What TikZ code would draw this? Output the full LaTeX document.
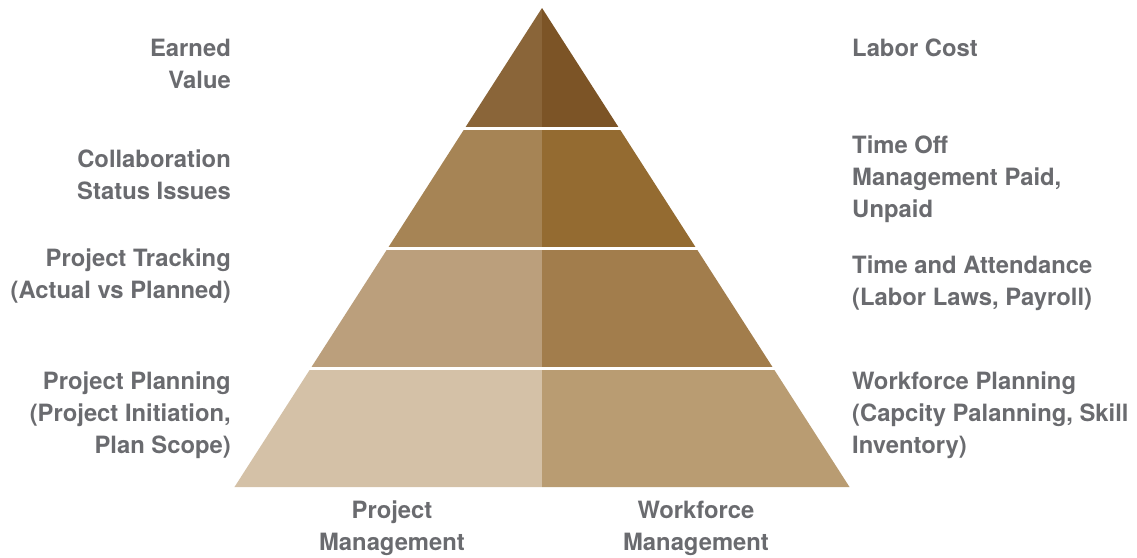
\documentclass[tikz,border=0pt]{standalone}
\usepackage{fontspec}
\setmainfont{TeX Gyre Heros}
\definecolor{pmA}{HTML}{8A6539}
\definecolor{wmA}{HTML}{7C5426}
\definecolor{pmB}{HTML}{A68455}
\definecolor{wmB}{HTML}{946B31}
\definecolor{pmC}{HTML}{BB9F7C}
\definecolor{wmC}{HTML}{A27D4C}
\definecolor{pmD}{HTML}{D4C1A7}
\definecolor{wmD}{HTML}{B99C72}
\definecolor{labelgrey}{HTML}{6A6B6F}
\tikzset{
  lbl/.style={inner sep=0pt, text=labelgrey, font=\fontsize{23.8}{32}\selectfont\bfseries},
  leftlbl/.style={lbl, anchor=east, align=right},
  rightlbl/.style={lbl, anchor=west, align=left},
  footlbl/.style={lbl, align=center}
}
\begin{document}
\begin{tikzpicture}[x=1pt,y=-1pt]
  \useasboundingbox (0,0) rectangle (1137,557);
  % pyramid layers
  \foreach \yt/\yb/\lc/\rc in {8/128/pmA/wmA, 128/248/pmB/wmB, 248/368/pmC/wmC, 368/487/pmD/wmD} {
    \fill[\lc] (542,\yt) -- ({542-0.642*(\yt-8)},\yt) -- ({542-0.642*(\yb-8)},\yb) -- (542,\yb) -- cycle;
    \fill[\rc] (542,\yt) -- ({542+0.642*(\yt-8)},\yt) -- ({542+0.642*(\yb-8)},\yb) -- (542,\yb) -- cycle;
  }
  \foreach \y in {128,248,368}
    \draw[white, line width=3pt] ({540-0.642*(\y-8)},\y) -- ({544+0.642*(\y-8)},\y);

  \node[leftlbl] (ev) at (231,64) {Earned\\Value};
  \node[leftlbl] (collab) at (231,175) {Collaboration\\Status Issues};
  \node[leftlbl] (track) at (231,276) {Project Tracking\\(Actual vs Planned)};
  \node[leftlbl] (plan) at (231,415) {Project Planning\\(Project Initiation,\\Plan Scope)};

  \node[rightlbl] (cost) at (852,48) {Labor Cost};
  \node[rightlbl] (timeoff) at (852,179) {Time Off\\Management Paid,\\Unpaid};
  \node[rightlbl] (attend) at (852,283) {Time and Attendance\\(Labor Laws, Payroll)};
  \node[rightlbl] (wfplan) at (852,415) {Workforce Planning\\(Capcity Palanning, Skill\\Inventory)};

  \node[footlbl] (pm) at (392,528) {Project\\Management};
  \node[footlbl] (wm) at (696,528) {Workforce\\Management};
\end{tikzpicture}
\end{document}
